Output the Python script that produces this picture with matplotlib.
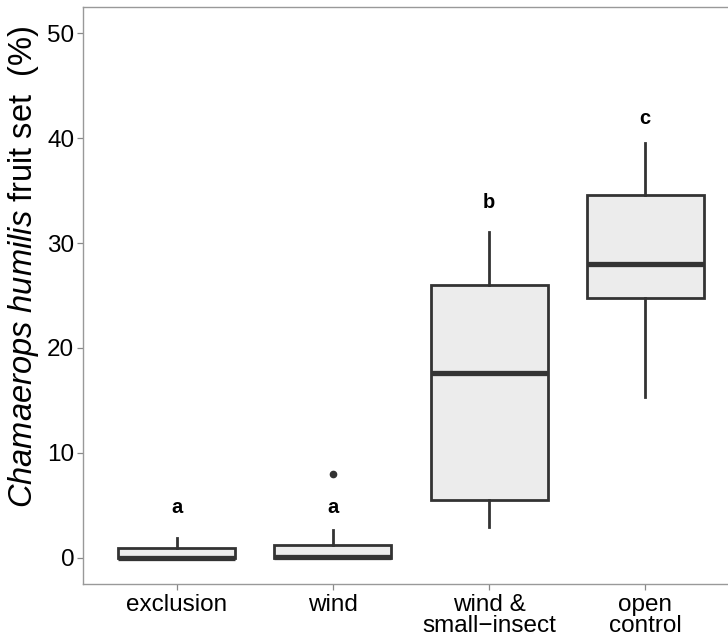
import matplotlib
matplotlib.use("Agg")
import matplotlib.pyplot as plt

plt.rcParams["font.family"] = ["Liberation Sans", "DejaVu Sans"]
plt.rcParams["mathtext.fontset"] = "custom"
plt.rcParams["mathtext.it"] = "Liberation Sans:italic"
plt.rcParams["mathtext.rm"] = "Liberation Sans"

# ---------- data ----------
categories = ["exclusion", "wind", "wind &\nsmall\u2212insect", "open\ncontrol"]
q1 = [0.0, 0.0, 5.5, 24.8]
median = [0.0, 0.1, 17.6, 28.0]
q3 = [0.9, 1.2, 26.0, 34.6]
whis_lo = [0.0, 0.0, 2.9, 15.3]
whis_hi = [1.9, 2.6, 31.1, 39.5]
fliers = [[], [8.0], [], []]
letters = ["a", "a", "b", "c"]
letter_y = [4.8, 4.8, 33.9, 41.9]

# ---------- plot ----------
stats = [
    dict(q1=q1[i], med=median[i], q3=q3[i], whislo=whis_lo[i],
         whishi=whis_hi[i], fliers=fliers[i])
    for i in range(len(categories))
]
pos = list(range(1, len(categories) + 1))

fig = plt.figure(figsize=(7.28, 6.4), dpi=100)
# right edge of the panel is cut off in the original
ax = fig.add_axes([83 / 728, 56 / 640, 656 / 728, 577 / 640])

edge = "#333333"
ax.bxp(
    stats, positions=pos, widths=0.75, patch_artist=True, showcaps=False,
    boxprops=dict(facecolor="#ececec", edgecolor=edge, linewidth=2.0),
    medianprops=dict(color=edge, linewidth=3.8, solid_capstyle="butt"),
    whiskerprops=dict(color=edge, linewidth=2.0),
    flierprops=dict(marker="o", markersize=4.5, markerfacecolor=edge,
                    markeredgecolor=edge),
)

for x, lab, y in zip(pos, letters, letter_y):
    ax.text(x, y, lab, ha="center", va="center", fontsize=14.5,
            fontweight="bold", color="black")

ax.set_xlim(0.4, 4.6)
ax.set_ylim(-2.5, 52.5)
ax.set_yticks([0, 10, 20, 30, 40, 50])
ax.set_xticks(pos)
ax.set_xticklabels(categories)

for s in ax.spines.values():
    s.set_color("#999999")
    s.set_linewidth(1.0)
ax.tick_params(axis="both", colors="#888888", labelcolor="black",
               labelsize=17.5, length=4.3, width=0.9)
ax.tick_params(axis="y", pad=2)
ax.tick_params(axis="x", pad=3)
for t in ax.get_xticklabels():
    t.set_linespacing(0.95)

ax.set_ylabel(r"$\mathit{Chamaerops\ humilis}$ fruit set  (%)", fontsize=23.5)
ax.yaxis.set_label_coords(-0.064, 0.55)

fig.savefig("out.png", dpi=100)
